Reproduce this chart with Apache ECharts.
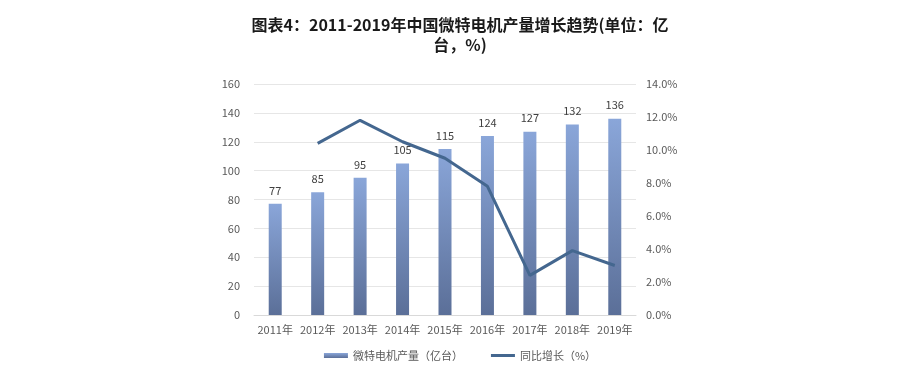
<!DOCTYPE html>
<html>
<head>
<meta charset="utf-8">
<script src="https://cdn.jsdelivr.net/npm/echarts@6/dist/echarts.min.js"></script>
<style>
  html, body { margin: 0; padding: 0; background: #fff; }
  #chart { width: 920px; height: 376px; }
</style>
</head>
<body>
<div id="chart"></div>
<script>
  // 年份
  const years = ['2011年', '2012年', '2013年', '2014年', '2015年', '2016年', '2017年', '2018年', '2019年']
  // 微特电机产量（亿台）
  const output = [77, 85, 95, 105, 115, 124, 127, 132, 136]
  // 同比增长（%）
  const growth = [null, 10.4, 11.8, 10.5, 9.5, 7.8, 2.4, 3.9, 3.0]

  const chart = echarts.init(document.getElementById('chart'))
  const fontFamily = '"Microsoft YaHei", "Noto Sans CJK SC", sans-serif'

  const option = {
    backgroundColor: '#fff',
    textStyle: {fontFamily: fontFamily},
    title: {
      text: '图表4：2011-2019年中国微特电机产量增长趋势(单位：亿\n台，%)',
      left: 'center',
      top: 10,
      textStyle: {
        fontSize: 16,
        fontWeight: 'bold',
        color: '#1a1a1a',
        lineHeight: 20,
        fontFamily: fontFamily
      }
    },
    legend: {
      bottom: 10,
      left: 'center',
      itemGap: 28,
      itemWidth: 24,
      itemHeight: 5,
      textStyle: {fontSize: 11, color: '#595959'},
      data: [
        {name: '微特电机产量（亿台）', icon: 'rect'},
        {name: '同比增长（%）', icon: 'path://M0,0 L24,0 L24,3 L0,3 Z'}
      ]
    },
    grid: {left: 254, right: 284, top: 84, bottom: 61},
    xAxis: {
      type: 'category',
      data: years,
      axisLine: {lineStyle: {color: '#d9d9d9'}},
      axisTick: {show: false},
      axisLabel: {color: '#595959', fontSize: 11, margin: 9, interval: 0}
    },
    yAxis: [
      {
        type: 'value',
        min: 0,
        max: 160,
        interval: 20,
        axisLine: {show: false},
        axisTick: {show: false},
        axisLabel: {color: '#595959', fontSize: 11, margin: 14},
        splitLine: {lineStyle: {color: '#e6e6e6'}}
      },
      {
        type: 'value',
        min: 0,
        max: 14,
        interval: 2,
        position: 'right',
        axisLine: {show: false},
        axisTick: {show: false},
        splitLine: {show: false},
        axisLabel: {
          color: '#595959',
          fontSize: 11,
          margin: 10,
          formatter: v => v.toFixed(1) + '%'
        }
      }
    ],
    series: [
      {
        name: '微特电机产量（亿台）',
        type: 'bar',
        data: output,
        barWidth: 13,
        itemStyle: {
          color: new echarts.graphic.LinearGradient(0, 0, 0, 1, [
            {offset: 0, color: '#8aa6d9'},
            {offset: 1, color: '#5b6f98'}
          ])
        },
        label: {
          show: true,
          position: 'top',
          distance: 8,
          color: '#404040',
          fontSize: 11
        }
      },
      {
        name: '同比增长（%）',
        type: 'line',
        yAxisIndex: 1,
        data: growth,
        symbol: 'none',
        lineStyle: {width: 3, color: '#44678f'},
        itemStyle: {color: '#44678f'}
      }
    ]
  }
  chart.setOption(option)
</script>
</body>
</html>
